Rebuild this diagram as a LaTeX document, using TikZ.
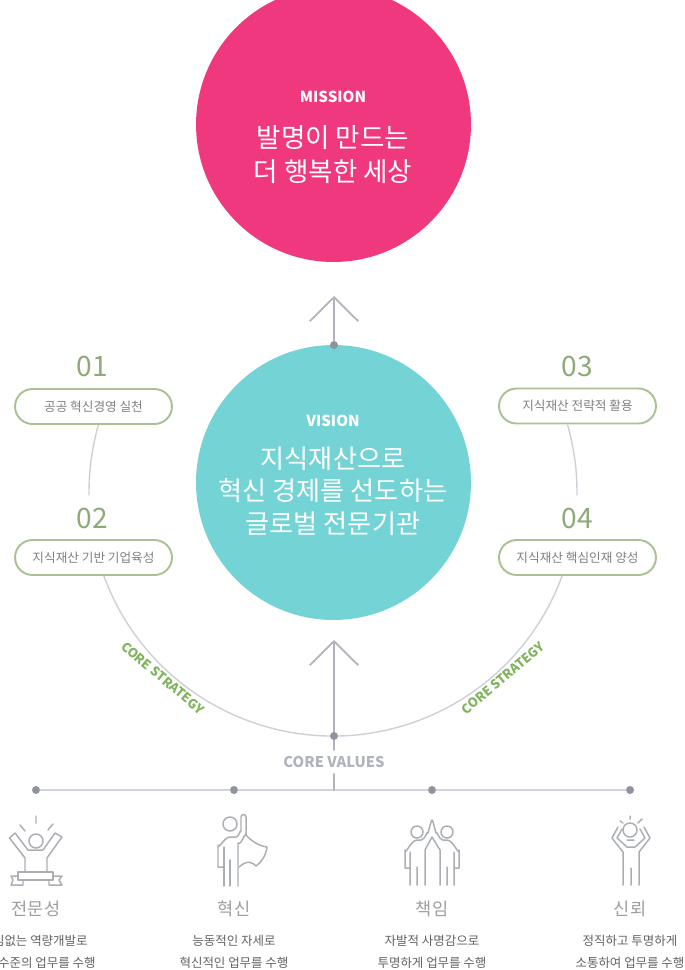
\documentclass[tikz,border=0pt]{standalone}
\usepackage{fontspec}
\setmainfont{Noto Sans CJK KR}
\usetikzlibrary{arrows.meta}
\definecolor{missionpink}{HTML}{F0387F}
\definecolor{visionteal}{HTML}{74D3D4}
\definecolor{pillgreen}{HTML}{A9C193}
\definecolor{numgreen}{HTML}{8FAA78}
\definecolor{stratgreen}{HTML}{7FB35C}
\definecolor{arcgray}{HTML}{CFCFD8}
\definecolor{axisgray}{HTML}{B0B3BC}
\definecolor{linegray}{HTML}{D2D4DD}
\definecolor{dotgray}{HTML}{8F939F}
\definecolor{icongray}{HTML}{ABAFB3}
\begin{document}
\begin{tikzpicture}[x=0.02cm,y=-0.02cm,line join=round,line cap=round,>={Straight Barb[length=13.6pt,width=27.5pt]},
	bigcircle/.style={circle,minimum size=5.5cm,inner sep=0pt},
	titletext/.style={text=white,font=\fontsize{14.9pt}{18.6pt}\selectfont,align=center},
	headtext/.style={text=white,font=\fontsize{8.6pt}{10pt}\selectfont\bfseries},
	pill/.style={draw=pillgreen,line width=1.1pt,rounded corners=0.35cm,minimum width=3.14cm,minimum height=0.7cm,inner sep=0pt,text=black!50,font=\fontsize{7.2pt}{9pt}\selectfont},
	numtext/.style={text=numgreen,font=\fontsize{16pt}{20pt}\selectfont},
	strategy/.style={text=stratgreen,font=\fontsize{7.3pt}{9pt}\selectfont\bfseries},
	arcline/.style={draw=arcgray,line width=0.8pt},
	axisline/.style={draw=axisgray,line width=1pt},
	dot/.style={circle,fill=dotgray,minimum size=0.16cm,inner sep=0pt},
	icon/.style={draw=icongray,line width=0.85pt},
	valuetext/.style={text=black!38,font=\fontsize{10pt}{12pt}\selectfont},
	desctext/.style={text=black!62,font=\fontsize{7.1pt}{12.4pt}\selectfont,align=center}]
	\clip (0,0) rectangle (685,970);
	% arcs
	\coordinate (arccenter) at (333,492);
	\draw[arcline] (arccenter) ++(160.1:244) arc (160.1:19.9:244);
	\draw[arcline] (arccenter) ++(195.9:244) arc (195.9:179.3:244);
	\draw[arcline] (arccenter) ++(-15.9:244) arc (-15.9:0.7:244);
	% circles
	\node[bigcircle,fill=missionpink] (mission) at (333.5,124.5) {};
	\node[bigcircle,fill=visionteal] (vision) at (333.5,482.5) {};
	\node[headtext] (missionhead) at (333,97) {MISSION};
	\node[titletext,font=\fontsize{15.1pt}{19.3pt}\selectfont] (missiontitle) at (333,155) {발명이 만드는\\더 행복한 세상};
	\node[headtext] (visionhead) at (333,421) {VISION};
	\node[titletext] (visiontitle) at (333,491) {지식재산으로\\혁신 경제를 선도하는\\글로벌 전문기관};
	% arrows
	\node[dot] (visiondot) at (334,345) {};
	\coordinate (missiontip) at (334,296);
	\draw[axisline,->] (visiondot) -- (missiontip);
	\node[dot] (valuedot) at (334,736) {};
	\coordinate (visiontip) at (334,640);
	\draw[axisline,->] (valuedot) -- (visiontip);
	% strategies
	\node[numtext] (num1) at (92,366) {01};
	\node[numtext] (num2) at (92,518) {02};
	\node[numtext] (num3) at (577,366) {03};
	\node[numtext] (num4) at (577,518) {04};
	\node[pill,fill=white] (pill1) at (93.5,406.5) {공공 혁신경영 실천};
	\node[pill,fill=white] (pill2) at (93.5,557.5) {지식재산 기반 기업육성};
	\node[pill,fill=white] (pill3) at (577.5,406) {지식재산 전략적 활용};
	\node[pill,fill=white] (pill4) at (577.5,557.5) {지식재산 핵심인재 양성};
	\node[strategy,rotate=-40] (stratleft) at (163,678) {CORE STRATEGY};
	\node[strategy,rotate=40] (stratright) at (503,678) {CORE STRATEGY};
	% values
	\node[dot] (dot1) at (36,790) {};
	\node[dot] (dot2) at (234,790) {};
	\node[dot] (dot3) at (432,790) {};
	\node[dot] (dot4) at (630,790) {};
	\draw[draw=linegray,line width=1.1pt] (dot1) -- (dot2) -- (dot3) -- (dot4);
	\coordinate (valuejoin) at (334,790);
	\node[text=axisgray,font=\fontsize{8.4pt}{10pt}\selectfont\bfseries] (corevalues) at (334,762) {CORE VALUES};
	\draw[axisline,line width=0.8pt] (valuedot) -- (corevalues);
	\draw[axisline,line width=0.8pt] (corevalues) -- (valuejoin);
	% icon 1
	\draw[icon] (36,816)--(36,823) (20,825)--(25,831) (53,824)--(48,830);
	\draw[icon] (36,841) circle (7);
	\draw[icon] (25,871)--(25,858)--(9.5,838)--(15,833)--(28,850)--(43,850)--(55,833)--(62,837)--(47,858)--(47,871);
	\draw[icon] (18,872) rectangle (53,880);
	\draw[icon] (18,876)--(11,876)--(13,880)--(11,885)--(23,885)--(23,880);
	\draw[icon] (53,876)--(62,876)--(59,880)--(62,885)--(49,885)--(49,880);
	% icon 2
	\draw[icon] (230,824) circle (7);
	\draw[icon] (224,867)--(218,867)--(218,845) to[out=-90,in=180] (230,837)--(236,837) to[out=0,in=90] (241,831)--(241,817) arc (180:360:2.5)--(246,835) to[out=90,in=-60] (238,843)--(238,886);
	\draw[icon] (224,847)--(224,886) (230,860)--(230,886);
	\draw[icon] (246,835) .. controls (252,842) and (260,846) .. (267,847) .. controls (266,855) and (262,862) .. (256,866) .. controls (252,862) and (248,861) .. (243,864) -- (239,867);
	% icon 3
	\draw[icon] (417,832) circle (6) (447,832) circle (6);
	\draw[icon] (410,868)--(405,868)--(405,850) to[out=-90,in=180] (417,840)--(421,840) to[out=0,in=90] (428,833)--(431,822) (433,822)--(436,833) to[out=90,in=180] (443,840)--(447,840) to[out=0,in=-90] (459,850)--(459,868)--(454,868);
	\draw[icon] (431,822)--(432,820)--(433,822);
	\draw[icon] (410,852)--(410,885) (417,867)--(417,885) (425,885)--(425,850)--(432,837)--(440,850)--(440,885) (447,867)--(447,885) (454,852)--(454,885);
	% icon 4
	\draw[icon] (630,816)--(630,819) (620,821)--(623,823) (642,819)--(638,823);
	\draw[icon] (630,830) circle (7) (627,840)--(634,840);
	\draw[icon] (618,827)--(612,838)--(623,852)--(623,885) (622,829)--(617,838)--(627,847)--(635,847)--(645,838)--(640,829) (644,827)--(650,838)--(639,852)--(639,885) (631,868)--(631,885);
	% value labels
	\node[valuetext] (value1) at (36,909) {전문성};
	\node[valuetext] (value2) at (234,909) {혁신};
	\node[valuetext] (value3) at (432,909) {책임};
	\node[valuetext] (value4) at (630,909) {신뢰};
	\node[desctext,anchor=east,inner sep=0pt] (desc1a) at (88,941) {임없는 역량개발로};
	\node[desctext,anchor=east,inner sep=0pt] (desc1b) at (96,963) {수준의 업무를 수행};
	\node[desctext] (desc2) at (234,952) {능동적인 자세로\\혁신적인 업무를 수행};
	\node[desctext] (desc3) at (432,952) {자발적 사명감으로\\투명하게 업무를 수행};
	\node[desctext] (desc4) at (630,952) {정직하고 투명하게\\소통하여 업무를 수행};
\end{tikzpicture}
\end{document}
